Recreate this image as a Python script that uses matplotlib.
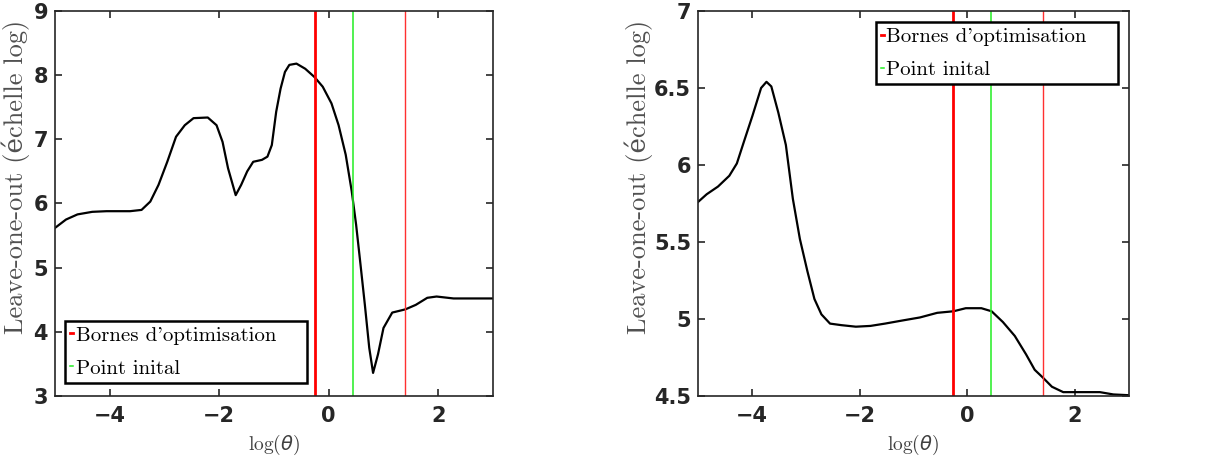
import numpy as np
import matplotlib.pyplot as plt

# Courbe de gauche : log(theta) -> leave-one-out (echelle log)
x_left = [-5.0, -4.80, -4.59, -4.32, -4.06, -3.63, -3.42, -3.26, -3.11, -2.95,
          -2.79, -2.63, -2.47, -2.21, -2.05, -1.94, -1.84, -1.70, -1.60, -1.49,
          -1.38, -1.22, -1.12, -1.04, -0.96, -0.88, -0.80, -0.72, -0.59, -0.43,
          -0.26, -0.11, 0.05, 0.18, 0.31, 0.42, 0.50, 0.58, 0.66, 0.74,
          0.81, 0.90, 1.00, 1.16, 1.40, 1.59, 1.80, 1.97, 2.28, 3.0]
y_left = [5.62, 5.75, 5.83, 5.87, 5.88, 5.88, 5.90, 6.03, 6.29, 6.65,
          7.04, 7.22, 7.33, 7.34, 7.22, 6.96, 6.55, 6.13, 6.29, 6.50,
          6.65, 6.68, 6.73, 6.91, 7.43, 7.79, 8.05, 8.16, 8.18, 8.10,
          7.97, 7.82, 7.56, 7.22, 6.76, 6.19, 5.67, 5.05, 4.42, 3.75,
          3.36, 3.65, 4.06, 4.30, 4.35, 4.42, 4.53, 4.55, 4.52, 4.52]

# Courbe de droite
x_right = [-5.0, -4.84, -4.63, -4.42, -4.28, -4.15, -3.99, -3.83, -3.73, -3.64,
           -3.51, -3.37, -3.24, -3.11, -2.97, -2.84, -2.71, -2.55, -2.34, -2.07,
           -1.80, -1.53, -1.21, -0.88, -0.56, -0.26, -0.03, 0.26, 0.45, 0.66,
           0.88, 1.09, 1.25, 1.40, 1.57, 1.78, 2.21, 2.46, 2.71, 3.0]
y_right = [5.76, 5.81, 5.86, 5.93, 6.01, 6.15, 6.32, 6.50, 6.54, 6.51,
           6.34, 6.13, 5.78, 5.52, 5.31, 5.13, 5.03, 4.97, 4.96, 4.95,
           4.955, 4.97, 4.99, 5.01, 5.04, 5.05, 5.07, 5.07, 5.05, 4.98,
           4.89, 4.77, 4.67, 4.62, 4.56, 4.525, 4.525, 4.525, 4.51, 4.505]

bornes = [-0.26, 1.40]
point_initial = 0.44

serif = ['cmr10', 'DejaVu Serif']

fig = plt.figure(figsize=(12.29, 4.58), dpi=100)
ax1 = fig.add_axes([0.0448, 0.1354, 0.3563, 0.8406])
ax2 = fig.add_axes([0.568, 0.1354, 0.3506, 0.8406])


def draw(ax, x, y, ylim, yticks, ylabels, label_x, legend_loc, legend_anchor):
    ax.plot(x, y, color='black', lw=1.6)
    l1 = ax.axvline(bornes[0], color='red', lw=2.0)
    ax.axvline(bornes[1], color='#ff3030', lw=1.0)
    l2 = ax.axvline(point_initial, color='#22ee22', lw=1.1)
    ax.set_xlim(-5, 3)
    ax.set_ylim(*ylim)
    ax.set_xticks([-4, -2, 0, 2])
    ax.set_yticks(yticks)
    ax.set_xticklabels(['\u22124', '\u22122', '0', '2'])
    ax.set_yticklabels(ylabels)
    ax.tick_params(direction='in', top=True, right=True, length=5, width=1.2,
                   labelsize=15, colors='#262626', pad=7)
    ax.tick_params(axis='y', pad=5)
    for t in ax.get_xticklabels() + ax.get_yticklabels():
        t.set_fontweight('bold')
    for s in ax.spines.values():
        s.set_color('#262626')
        s.set_linewidth(1.2)
    ax.set_xlabel(r'log($\theta$)', family=serif, fontsize=14, color='#404040',
                  labelpad=5)
    ax.set_ylabel('Leave-one-out (échelle log)', family=serif, fontsize=19,
                  color='#505050')
    ax.yaxis.set_label_coords(label_x, 0.57)
    leg = ax.legend([l1, l2], ["Bornes d'optimisation\u2003\u2005", 'Point inital'],
                    loc=legend_loc, bbox_to_anchor=legend_anchor,
                    prop={'family': serif, 'size': 15}, handlelength=0.15,
                    handletextpad=0.1, borderpad=0.25, labelspacing=0.7,
                    fancybox=False, framealpha=1, borderaxespad=0)
    leg.get_frame().set_edgecolor('black')
    leg.get_frame().set_linewidth(1.8)


draw(ax1, x_left, y_left, (3, 9), [3, 4, 5, 6, 7, 8, 9],
     ['3', '4', '5', '6', '7', '8', '9'], -0.058, 'lower left', (0.023, 0.034))
draw(ax2, x_right, y_right, (4.5, 7), [4.5, 5, 5.5, 6, 6.5, 7],
     ['4.5', '5', '5.5', '6', '6.5', '7'], -0.104, 'upper right', (0.974, 0.971))

fig.savefig('out.png', dpi=100)
